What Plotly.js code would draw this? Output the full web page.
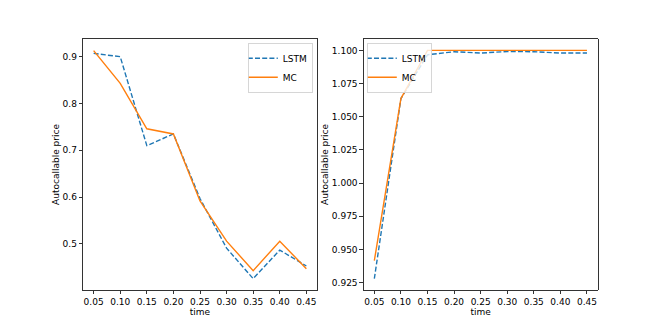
<!DOCTYPE html>
<html>
<head>
<meta charset="utf-8">
<script src="https://cdn.plot.ly/plotly-3.0.1.min.js"></script>
<style>
  html, body { margin: 0; padding: 0; background: white; }
  #chart { width: 664px; height: 332px; }
</style>
</head>
<body>
<div id="chart"></div>
<script>
// time steps shared by both panels
const time = [0.05, 0.10, 0.15, 0.20, 0.25, 0.30, 0.35, 0.40, 0.45];

// left panel
const lstmLeft = [0.907, 0.900, 0.710, 0.735, 0.597, 0.491, 0.426, 0.487, 0.453];
const mcLeft   = [0.913, 0.843, 0.746, 0.735, 0.592, 0.506, 0.443, 0.506, 0.447];

// right panel
const lstmRight = [0.928, 1.0637, 1.0967, 1.0990, 1.0980, 1.0992, 1.0990, 1.0980, 1.0980];
const mcRight   = [0.9416, 1.0637, 1.1000, 1.1000, 1.1000, 1.1000, 1.1000, 1.1000, 1.1000];

const BLUE = '#1f77b4';
const ORANGE = '#ff7f0e';
const FONT = 'DejaVu Sans, sans-serif';

function line(x, y, name, color, dashed, xa, ya, legend) {
    return {
        x: x, y: y, name: name,
        type: 'scatter', mode: 'lines',
        xaxis: xa, yaxis: ya, legend: legend,
        line: { color: color, width: 1.4, dash: dashed ? '5px,2.2px' : 'solid' },
        hoverinfo: 'skip'
    };
}

const traces = [
    line(time, lstmLeft, 'LSTM', BLUE, true, 'x', 'y', 'legend'),
    line(time, mcLeft, 'MC', ORANGE, false, 'x', 'y', 'legend'),
    line(time, lstmRight, 'LSTM', BLUE, true, 'x2', 'y2', 'legend2'),
    line(time, mcRight, 'MC', ORANGE, false, 'x2', 'y2', 'legend2')
];

const axisBase = {
    showline: true, mirror: true, linecolor: 'black', linewidth: 0.8,
    ticks: 'outside', ticklen: 3.5, tickwidth: 0.8, tickcolor: 'black',
    showgrid: false, zeroline: false,
    tickfont: { family: FONT, size: 9, color: 'black' }
};

const yTop = 1 - 39 / 332;
const yBot = 1 - 290 / 332;

const legendBase = {
    font: { family: FONT, size: 9, color: 'black' },
    bgcolor: 'rgba(255,255,255,0.8)',
    bordercolor: '#cccccc', borderwidth: 0.8,
    tracegroupgap: 0, itemwidth: 30, indentation: -6
};

const layout = {
    width: 664, height: 332,
    margin: { l: 0, r: 0, t: 0, b: 0 },
    paper_bgcolor: 'white', plot_bgcolor: 'white',
    font: { family: FONT, size: 9, color: 'black' },
    xaxis: Object.assign({}, axisBase, {
        domain: [83 / 664, 317 / 664], anchor: 'y',
        range: [0.03, 0.47], tickvals: time, tickformat: '.2f',
        title: { text: 'time', font: { family: FONT, size: 9 }, standoff: 0 }
    }),
    yaxis: Object.assign({}, axisBase, {
        domain: [yBot, yTop], anchor: 'x',
        range: [0.4017, 0.9378], dtick: 0.1, tick0: 0, tickformat: '.1f',
        title: { text: 'Autocallable price', font: { family: FONT, size: 9 }, standoff: 1 }
    }),
    xaxis2: Object.assign({}, axisBase, {
        domain: [363.7 / 664, 597.6 / 664], anchor: 'y2',
        range: [0.03, 0.47], tickvals: time, tickformat: '.2f',
        title: { text: 'time', font: { family: FONT, size: 9 }, standoff: 0 }
    }),
    yaxis2: Object.assign({}, axisBase, {
        domain: [yBot, yTop], anchor: 'x2',
        range: [0.9195, 1.1086], dtick: 0.025, tick0: 0, tickformat: '.3f',
        title: { text: 'Autocallable price', font: { family: FONT, size: 9 }, standoff: 1 }
    }),
    legend: Object.assign({}, legendBase, {
        x: 313 / 664, y: 1 - 43 / 332, xanchor: 'right', yanchor: 'top'
    }),
    legend2: Object.assign({}, legendBase, {
        x: 367 / 664, y: 1 - 43 / 332, xanchor: 'left', yanchor: 'top'
    }),
    showlegend: true
};

Plotly.newPlot('chart', traces, layout, { displayModeBar: false, staticPlot: true });
</script>
</body>
</html>
